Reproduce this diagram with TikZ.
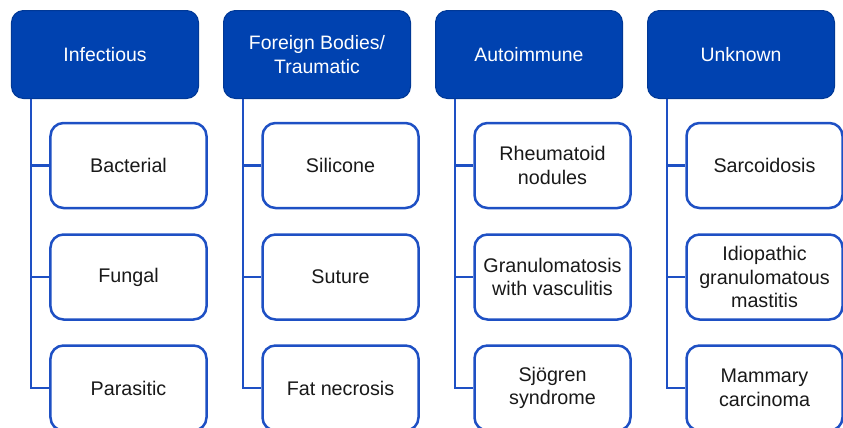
\documentclass[tikz,border=0pt]{standalone}
\usepackage{fontspec}
\setmainfont{Liberation Sans}

\definecolor{hdrblue}{RGB}{0,66,176}
\definecolor{lineblue}{RGB}{30,80,196}

\tikzset{
    header/.style={draw=hdrblue!85!black, fill=hdrblue, text=white, line width=1bp,
        rounded corners=12bp, minimum width=187bp, minimum height=88bp,
        align=center, font=\fontsize{19.5}{23.5}\selectfont},
    item/.style={draw=lineblue, fill=white, text=black!90, line width=2.5bp,
        rounded corners=13bp, minimum width=156bp, minimum height=85bp,
        inner sep=2bp, align=center, font=\fontsize{19.8}{23.5}\selectfont},
    conn/.style={draw=lineblue, line width=2.5bp}
}

\begin{document}
\begin{tikzpicture}[x=1bp,y=-1bp]
        \useasboundingbox (0,0) rectangle (843,427);

        %%%%%%%%%% Boxes %%%%%%%%%%
        \foreach \hd/\ca/\cb/\cc [count=\i from 0] in
            {Infectious/Bacterial/Fungal/Parasitic,
             {Foreign Bodies/\\Traumatic}/Silicone/Suture/Fat necrosis,
             Autoimmune/{Rheumatoid\\nodules}/{Granulomatosis\\with vasculitis}/{Sjögren\\syndrome},
             Unknown/Sarcoidosis/{Idiopathic\\granulomatous\\mastitis}/{Mammary\\carcinoma}}
        {
            \node[header] (h\i) at (105+212*\i,54.5) {\hd};
            \node[item] (c\i a) at (128.5+212*\i,165.5) {\ca};
            \node[item] (c\i b) at (128.5+212*\i,277) {\cb};
            \node[item] (c\i c) at (128.5+212*\i,388) {\cc};

            %%%%%%%%% Lines %%%%%%%%%
            \coordinate (t\i) at ([xshift=20bp]h\i.south west);
            \draw[conn] (t\i) |- (c\i c.west);
            \draw[conn] (t\i |- c\i a.west) -- (c\i a.west);
            \draw[conn] (t\i |- c\i b.west) -- (c\i b.west);
        }
    \end{tikzpicture}
\end{document}
